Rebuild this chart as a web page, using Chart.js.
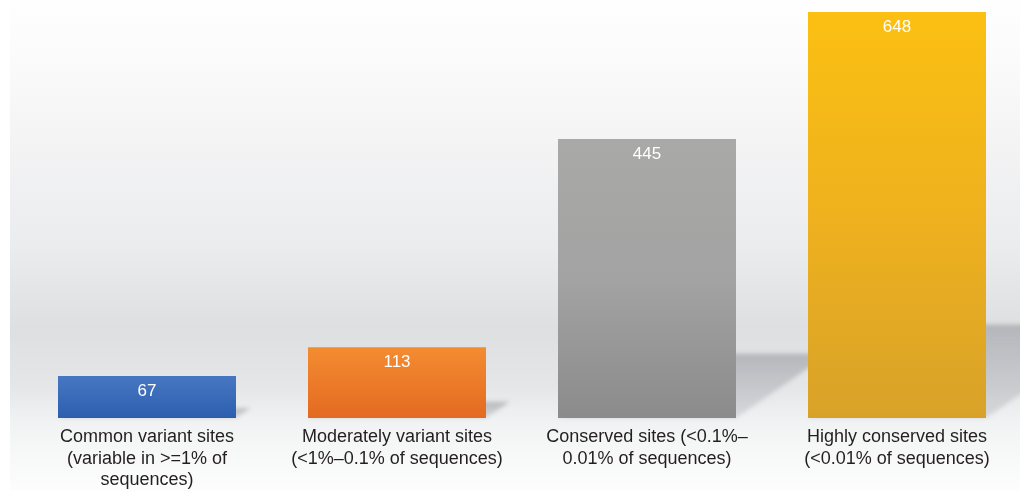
<!DOCTYPE html>
<html>
<head>
<meta charset="utf-8">
<script src="https://cdn.jsdelivr.net/npm/chart.js@4/dist/chart.umd.min.js"></script>
<style>
  html, body { margin: 0; padding: 0; background: #ffffff; overflow: hidden; }
  #wrap { width: 1020px; height: 491px; overflow: hidden; }
  canvas { display: block; }
</style>
</head>
<body>
<div id="wrap"><canvas id="sitesChart" width="1030" height="491"></canvas></div>
<script>
// categories of sites and their counts
const categories = [
    ['Common variant sites', '(variable in >=1% of', 'sequences)'],
    ['Moderately variant sites', '(<1%\u20130.1% of sequences)'],
    ['Conserved sites (<0.1%\u2013', '0.01% of sequences)'],
    ['Highly conserved sites', '(<0.01% of sequences)']
];
const siteCounts = [67, 113, 445, 648];

// top / middle / bottom colours of each bar
const barTopColors = ['#4777c2', '#f38c31', '#a9a9a7', '#fbc012'];
const barMidColors = ['#3a6bb9', '#ec7b29', '#a2a3a2', '#efb11e'];
const barBottomColors = ['#2b5ead', '#e36a22', '#8b8b8b', '#d8a229'];

function barFill(context) {
    const chart = context.chart;
    const i = context.dataIndex;
    if (!chart.chartArea || !chart.scales.y) return barTopColors[i];
    const yScale = chart.scales.y;
    const top = yScale.getPixelForValue(siteCounts[i]);
    const bottom = yScale.getPixelForValue(0);
    const g = chart.ctx.createLinearGradient(0, top, 0, bottom);
    g.addColorStop(0, barTopColors[i]);
    g.addColorStop(0.5, barMidColors[i]);
    g.addColorStop(1, barBottomColors[i]);
    return g;
}

// wall + floor backdrop
const backdrop = {
    id: 'backdrop',
    beforeDraw(chart) {
        const { ctx, height } = chart;
        const base = chart.chartArea.bottom;
        ctx.save();
        const g = ctx.createLinearGradient(0, 0, 0, height);
        g.addColorStop(0, '#fefefe');
        g.addColorStop(0.12, '#fbfbfb');
        g.addColorStop(0.28, '#f4f4f5');
        g.addColorStop(0.5, '#ebecee');
        g.addColorStop(0.67, '#dedfe1');
        g.addColorStop((base - 30) / height, '#e5e6e8');
        g.addColorStop(base / height, '#f0f1f2');
        g.addColorStop((base + 25) / height, '#f5f6f6');
        g.addColorStop(1, '#fdfdfd');
        ctx.fillStyle = g;
        ctx.fillRect(10, 0, chart.width - 10, height);
        ctx.restore();
    }
};

// skewed floor shadow behind each bar
const barShadows = {
    id: 'barShadows',
    beforeDatasetsDraw(chart) {
        const { ctx } = chart;
        const meta = chart.getDatasetMeta(0);
        ctx.save();
        ctx.filter = 'blur(2px)';
        meta.data.forEach((bar) => {
            const right = bar.x + bar.width / 2;
            const left = bar.x - bar.width / 2;
            const h = bar.base - bar.y;
            const s = h * 0.23;
            const dx = s * 1.45;
            const g = ctx.createLinearGradient(0, bar.base - s, 0, bar.base);
            g.addColorStop(0, 'rgba(172,174,179,0.85)');
            g.addColorStop(1, 'rgba(198,200,204,0.6)');
            ctx.fillStyle = g;
            ctx.beginPath();
            ctx.moveTo(left, bar.base);
            ctx.lineTo(left + dx, bar.base - s);
            ctx.lineTo(right + dx, bar.base - s);
            ctx.lineTo(right, bar.base);
            ctx.closePath();
            ctx.fill();
        });
        ctx.restore();
    }
};

// count printed inside the top of each bar
const valueLabels = {
    id: 'valueLabels',
    afterDatasetsDraw(chart) {
        const { ctx } = chart;
        const meta = chart.getDatasetMeta(0);
        ctx.save();
        ctx.fillStyle = '#ffffff';
        ctx.font = '17px "Liberation Sans", Arial, sans-serif';
        ctx.textAlign = 'center';
        ctx.textBaseline = 'middle';
        meta.data.forEach((bar, i) => {
            ctx.fillText(String(siteCounts[i]), bar.x, bar.y + 15);
        });
        ctx.restore();
    }
};

const ctx = document.getElementById('sitesChart').getContext('2d');
new Chart(ctx, {
    type: 'bar',
    data: {
        labels: categories,
        datasets: [{
            data: siteCounts,
            backgroundColor: barFill,
            borderWidth: 0,
            barPercentage: 0.712,
            categoryPercentage: 1
        }]
    },
    options: {
        responsive: false,
        animation: false,
        layout: { padding: { left: 22, right: 8, top: 0, bottom: 0 } },
        plugins: {
            legend: { display: false },
            tooltip: { enabled: false }
        },
        scales: {
            x: {
                grid: { display: false, drawTicks: false },
                border: { display: false },
                ticks: {
                    color: '#231f20',
                    font: { family: '"Liberation Sans", Arial, sans-serif', size: 18, lineHeight: 1.17 },
                    padding: 9,
                    maxRotation: 0,
                    autoSkip: false
                },
                afterFit(scale) { scale.height = 73; }
            },
            y: {
                display: false,
                min: 0,
                max: 667
            }
        }
    },
    plugins: [backdrop, barShadows, valueLabels]
});
</script>
</body>
</html>
